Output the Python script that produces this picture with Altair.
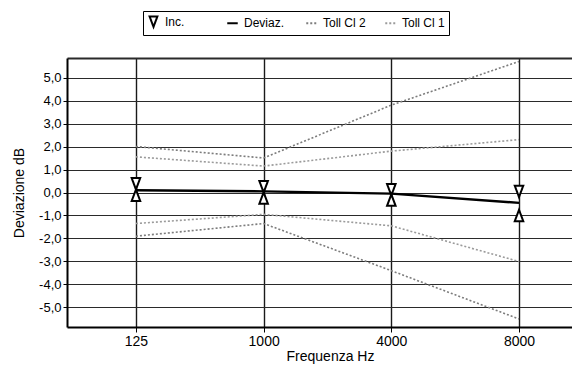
import altair as alt
import pandas as pd

# ---- data ----
freq_labels = ["125", "1000", "4000", "8000"]
deviaz = [0.1, 0.05, -0.05, -0.45]
inc_top = [0.38, 0.25, 0.12, 0.05]
inc_bottom = [-0.12, -0.24, -0.33, -1.0]
toll_cl2_upper = [2.0, 1.5, 3.8, 5.7]
toll_cl2_lower = [-1.9, -1.35, -3.4, -5.5]
toll_cl1_upper = [1.55, 1.15, 1.8, 2.3]
toll_cl1_lower = [-1.35, -0.95, -1.45, -3.0]
legend_names = ["Inc.", "Deviaz.", "Toll Cl 2", "Toll Cl 1"]
y_tick_values = [-5, -4, -3, -2, -1, 0, 1, 2, 3, 4, 5]

Y_MIN, Y_MAX = -5.85, 5.85
X_MIN, X_MAX = -0.54, 3.415
FONT = "Liberation Sans"
DOWN_PATH = "M-0.75,-1L0.75,-1L0,1Z"
UP_PATH = "M-0.75,1L0.75,1L0,-1Z"
CL2_COLOR = "#7d7d7d"
CL1_COLOR = "#9b9b9b"

idx = list(range(len(freq_labels)))

dev_df = pd.DataFrame({"pos": idx, "freq": freq_labels, "value": deviaz})


def toll_frame(upper, lower):
    rows = []
    for band, vals in [("upper", upper), ("lower", lower)]:
        for i, f, v in zip(idx, freq_labels, vals):
            rows.append({"pos": i, "freq": f, "value": v, "band": band})
    return pd.DataFrame(rows)


cl2_df = toll_frame(toll_cl2_upper, toll_cl2_lower)
cl1_df = toll_frame(toll_cl1_upper, toll_cl1_lower)
inc_top_df = pd.DataFrame({"pos": idx, "freq": freq_labels, "value": inc_top, "series": "Inc."})
inc_bot_df = pd.DataFrame({"pos": idx, "freq": freq_labels, "value": inc_bottom})

label_expr_x = "[" + ",".join("'%s'" % f for f in freq_labels) + "][datum.value]"

x_enc = alt.X(
    "pos:Q",
    scale=alt.Scale(domain=[X_MIN, X_MAX], nice=False, zero=False),
    axis=alt.Axis(
        values=idx, labelExpr=label_expr_x, labelAngle=0,
        grid=True, gridColor="#1a1a1a", gridWidth=1.4, gridOpacity=1,
        domain=True, domainColor="black", domainWidth=2,
        ticks=True, tickSize=5, tickColor="black",
        labelFont=FONT, labelFontSize=14, labelColor="black", labelPadding=2,
        title="Frequenza Hz", titleFont=FONT, titleFontSize=14, titleFontWeight="normal",
        titleColor="black", titlePadding=1, titleX=263,
    ),
)

y_enc = alt.Y(
    "value:Q",
    scale=alt.Scale(domain=[Y_MIN, Y_MAX], nice=False, zero=False),
    axis=alt.Axis(
        values=y_tick_values + [Y_MAX],
        labelExpr="datum.value > 5.5 ? '' : replace(replace(format(datum.value, '.1f'), '.', ','), '\u2212', '-')",
        grid=True, gridColor="#2a2a2a", gridOpacity=1,
        gridWidth={"condition": {"test": "datum.value > 5.5", "value": 2.2}, "value": 1},
        tickOpacity={"condition": {"test": "datum.value > 5.5", "value": 0}, "value": 1},
        domain=True, domainColor="black", domainWidth=2,
        ticks=True, tickSize=4, tickColor="black",
        labelFont=FONT, labelFontSize=13, labelColor="black", labelPadding=2,
        title="Deviazione dB", titleFont=FONT, titleFontSize=14, titleFontWeight="normal",
        titleColor="black", titlePadding=12,
    ),
)

color_scale = alt.Scale(domain=legend_names, range=["black", "black", CL2_COLOR, CL1_COLOR])
shape_scale = alt.Scale(domain=legend_names, range=[DOWN_PATH, "stroke", "stroke", "stroke"])
dash_scale = alt.Scale(domain=legend_names, range=[[1, 0], [1, 0], [2, 2], [2, 2]])

leg = alt.Legend(
    title=None, orient="none", legendX=76, legendY=-47, direction="horizontal", columns=4,
    strokeColor="black", fillColor="white", padding=4, gridAlign="all", columnPadding=15,
    labelFont=FONT, labelFontSize=12, labelColor="black", labelOffset=5,
    symbolSize=110, symbolStrokeWidth=2, symbolOpacity=1,
)

cl2 = alt.Chart(cl2_df).mark_line(strokeWidth=1.6, strokeDash=[2, 2], color=CL2_COLOR).encode(
    x=x_enc, y=y_enc, detail="band:N",
)
cl1 = alt.Chart(cl1_df).mark_line(strokeWidth=1.6, strokeDash=[2, 2], color=CL1_COLOR).encode(
    x=x_enc, y=y_enc, detail="band:N",
)

dev = alt.Chart(dev_df).mark_line(strokeWidth=2.4, color="black").encode(x=x_enc, y=y_enc)

tri_down = alt.Chart(inc_top_df).mark_point(
    filled=False, fill="white", fillOpacity=1, size=130, strokeWidth=2, opacity=1
).encode(
    x=x_enc, y=y_enc,
    color=alt.Color("series:N", scale=color_scale, legend=leg),
    shape=alt.Shape("series:N", scale=shape_scale, legend=leg),
    strokeDash=alt.StrokeDash("series:N", scale=dash_scale, legend=leg),
)

tri_up = alt.Chart(inc_bot_df).mark_point(
    filled=False, fill="white", fillOpacity=1, size=130, strokeWidth=2, opacity=1,
    shape=UP_PATH, color="black",
).encode(x=x_enc, y=y_enc)

chart = (
    alt.layer(cl2, cl1, dev, tri_down, tri_up)
    .properties(
        width=505, height=269,
        autosize=alt.AutoSizeParams(type="none"),
        padding={"left": 59, "top": 50, "right": 0, "bottom": 39},
    )
    .configure(font=FONT)
    .configure_view(stroke="transparent")
)

chart.save("out.html", embed_options={"renderer": "svg", "actions": False})
